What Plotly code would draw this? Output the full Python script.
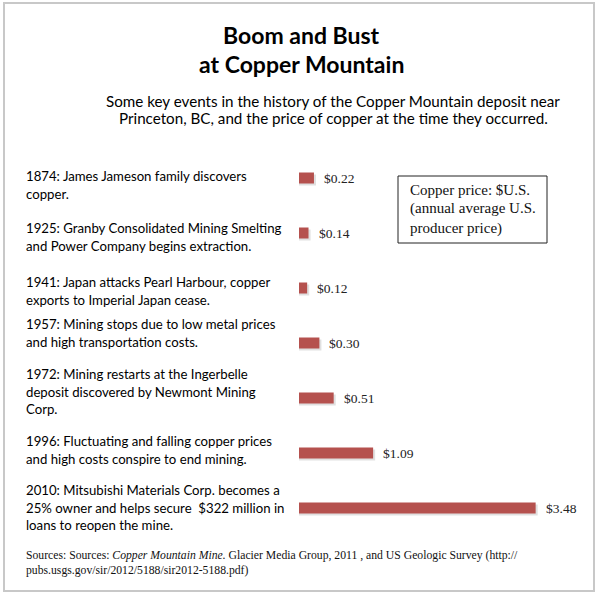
import plotly.graph_objects as go

events = [
    ["1874: James Jameson family discovers", "copper."],
    ["1925: Granby Consolidated Mining Smelting", "and Power Company begins extraction."],
    ["1941: Japan attacks Pearl Harbour, copper", "exports to Imperial Japan cease."],
    ["1957: Mining stops due to low metal prices", "and high transportation costs."],
    ["1972: Mining restarts at the Ingerbelle", "deposit discovered by Newmont Mining", "Corp."],
    ["1996: Fluctuating and falling copper prices", "and high costs conspire to end mining."],
    ["2010: Mitsubishi Materials Corp. becomes a", "25% owner and helps secure  $322 million in", "loans to reopen the mine."],
]
prices = [0.22, 0.14, 0.12, 0.30, 0.51, 1.09, 3.48]
price_labels = ["$0.22", "$0.14", "$0.12", "$0.30", "$0.51", "$1.09", "$3.48"]
title_lines = ["Boom and Bust", "at Copper Mountain"]
subtitle_lines = ["Some key events in the history of the Copper Mountain deposit near",
                  "Princeton, BC, and the price of copper at the time they occurred."]
legend_lines = ["Copper price: $U.S.", "(annual average U.S.", "producer price)"]
source_lines = ["Sources: Sources: <i>Copper Mountain Mine.</i> Glacier Media Group, 2011 , and US Geologic Survey (http://",
                "pubs.usgs.gov/sir/2012/5188/sir2012-5188.pdf)"]

W, H = 600, 597
x0_px, px_per_dollar = 299, 68.0
y0_px, px_per_row = 178, 55.0
xmax = 4.4
ypos = list(range(len(prices)))
event_first_line_y = [176, 228, 282, 324, 374, 441, 490]
line_gap = 17.5

bar_w = 11 / px_per_row
sh = 2 / px_per_row

fig = go.Figure()
fig.add_trace(go.Bar(
    x=[p + 0.03 for p in prices], y=[y + sh for y in ypos], orientation="h",
    width=bar_w, marker=dict(color="rgba(0,0,0,0.12)", line=dict(width=0)),
    hoverinfo="skip", showlegend=False))
fig.add_trace(go.Bar(
    x=prices, y=ypos, orientation="h", width=bar_w,
    marker=dict(color="#b5514e", line=dict(width=0)),
    showlegend=False))

ymin = 0 - y0_px / px_per_row
ymax = 0 + (H - y0_px) / px_per_row


def py(p):
    return 1 - p / H


def text_line(x, y, t, font, size, anchor="left", color="#000"):
    return dict(x=x / W, y=py(y), xref="paper", yref="paper", text=t, showarrow=False,
                xanchor=anchor, yanchor="middle", font=dict(family=font, size=size, color=color))


ann = []
for i, (p, lab) in enumerate(zip(prices, price_labels)):
    ann.append(dict(x=p, y=i, xref="x", yref="y", text=lab, showarrow=False,
                    xanchor="left", yanchor="middle", xshift=8,
                    font=dict(family="Liberation Serif", size=13.5, color="#222")))
for lines, y0 in zip(events, event_first_line_y):
    for k, t in enumerate(lines):
        ann.append(text_line(24, y0 + k * line_gap, t, "Lato", 13.2))
for k, t in enumerate(title_lines):
    ann.append(text_line(301, 35 + k * 29, "<b>%s</b>" % t, "Lato", 23, "center"))
for k, t in enumerate(subtitle_lines):
    ann.append(text_line(333, 101 + k * 17, t, "Lato", 15.2, "center"))
for k, t in enumerate(legend_lines):
    ann.append(text_line(408, 190 + k * 19, t, "Liberation Serif", 15, color="#111"))
for k, t in enumerate(source_lines):
    ann.append(text_line(24, 555 + k * 15, t, "Liberation Serif", 11.7, color="#111"))

shapes = [
    dict(type="rect", xref="paper", yref="paper", x0=4 / W, x1=594 / W,
         y0=py(591), y1=py(3), line=dict(color="#c8c8c8", width=2)),
    dict(type="rect", xref="paper", yref="paper", x0=398 / W, x1=547 / W,
         y0=py(243), y1=py(176), line=dict(color="#222", width=1)),
]

fig.update_layout(
    width=W, height=H, margin=dict(l=0, r=0, t=0, b=0),
    paper_bgcolor="white", plot_bgcolor="white", barmode="overlay",
    xaxis=dict(domain=[x0_px / W, (x0_px + xmax * px_per_dollar) / W], range=[0, xmax],
               visible=False, fixedrange=True),
    yaxis=dict(range=[ymax, ymin], visible=False, fixedrange=True),
    annotations=ann, shapes=shapes,
)
fig.write_html("out.html", config={"displayModeBar": False},
               post_script="document.body.style.margin='0';document.body.style.overflow='hidden';")
